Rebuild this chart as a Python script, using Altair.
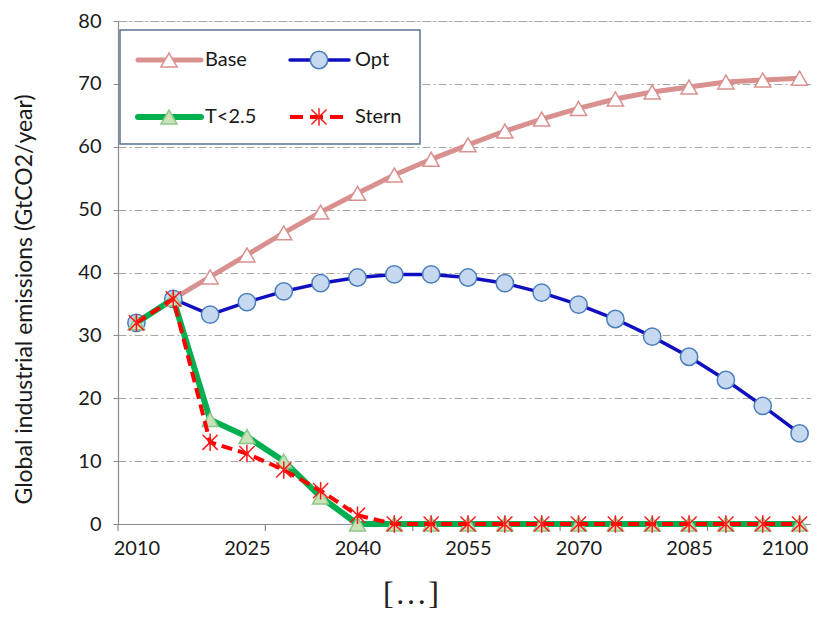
import altair as alt
import pandas as pd

years = list(range(2010, 2101, 5))
base = [32.0, 35.8, 39.3, 42.8, 46.3, 49.6, 52.6, 55.5, 58.0, 60.3, 62.5, 64.4,
        66.1, 67.6, 68.7, 69.5, 70.3, 70.6, 70.9]
opt = [32.0, 35.8, 33.3, 35.3, 37.0, 38.3, 39.2, 39.7, 39.7, 39.2, 38.3, 36.8,
       34.9, 32.6, 29.8, 26.6, 22.9, 18.8, 14.4]
t25 = [32.0, 35.8, 16.6, 13.9, 10.0, 4.3, 0.0, 0.0, 0.0, 0.0, 0.0, 0.0,
       0.0, 0.0, 0.0, 0.0, 0.0, 0.0, 0.0]
stern = [32.0, 35.8, 13.0, 11.2, 8.6, 5.3, 1.4, 0.0, 0.0, 0.0, 0.0, 0.0,
         0.0, 0.0, 0.0, 0.0, 0.0, 0.0, 0.0]
series_names = ["Base", "Opt", "T<2.5", "Stern"]
x_labels = [2010, 2025, 2040, 2055, 2070, 2085, 2100]
x_tick_marks = [2007.5, 2027.5, 2047.5, 2067.5, 2087.5]
y_ticks = [0, 10, 20, 30, 40, 50, 60, 70, 80]

FONT = "Lato"
W, H = 693, 503
STAR = "M-1,-1L1,1M-1,1L1,-1M0,-1.15L0,1.15"

styles = {
    "Base": dict(line=dict(color="#D9918F", strokeWidth=5),
                 pt=dict(shape="triangle-up", filled=True, fill="white", stroke="#D9918F",
                         strokeWidth=1.5, size=260, opacity=1)),
    "Opt": dict(line=dict(color="#1010C0", strokeWidth=3.5),
                pt=dict(shape="circle", filled=True, fill="#C6D9F1", stroke="#4A7EBB",
                        strokeWidth=1.5, size=300, opacity=1)),
    "T<2.5": dict(line=dict(color="#00B050", strokeWidth=6, strokeJoin="round"),
                  pt=dict(shape="triangle-up", filled=True, fill="#C9E2B8", stroke="#8FC78A",
                          strokeWidth=1.5, size=260, opacity=1)),
    "Stern": dict(line=dict(color="#FF0000", strokeWidth=4, strokeDash=[11, 6]),
                  pt=dict(shape=STAR, filled=False, stroke="#FF1A1A", strokeWidth=1.5,
                          size=230, opacity=1)),
}
values = {"Base": base, "Opt": opt, "T<2.5": t25, "Stern": stern}

px_per_year = 700 / 95
xscale = alt.Scale(domain=[2007.5, 2007.5 + W / px_per_year], nice=False, zero=False)
yscale = alt.Scale(domain=[0, 80], nice=False)

layers = []

axis_df = pd.DataFrame({"year": years, "v": base})
axes = alt.Chart(axis_df).mark_point(opacity=0).encode(
    x=alt.X("year:Q", scale=xscale, title=None,
            axis=alt.Axis(values=x_labels, format="d", ticks=False, grid=False,
                          labelFont=FONT, labelFontSize=20, labelColor="#1a1a1a",
                          labelPadding=14, domainColor="#8C8C8C", domainWidth=1.2,
                          labelOffset={"condition": {"test": "datum.value == 2100", "value": -15},
                                       "value": 0})),
    y=alt.Y("v:Q", scale=yscale,
            title="Global industrial emissions (GtCO2/year)",
            axis=alt.Axis(values=y_ticks, grid=True, gridDash=[8, 3, 2, 3],
                          gridColor="#A6A6A6", gridWidth=1,
                          domainColor="#8C8C8C", domainWidth=1.2,
                          tickColor="#8C8C8C", tickSize=5,
                          labelFont=FONT, labelFontSize=20, labelColor="#1a1a1a",
                          labelPadding=12,
                          titleFont=FONT, titleFontSize=23, titleFontWeight="normal",
                          titleColor="#1a1a1a", titleX=-94, titleY=278,
                          titleBaseline="middle", titleAngle=-90, titleAlign="center")),
)
layers.append(axes)

tick_df = pd.DataFrame({"t": x_tick_marks})
ticks = alt.Chart(tick_df).mark_rule(color="#8C8C8C", strokeWidth=1.2).encode(
    x=alt.X("t:Q", scale=xscale), y=alt.value(H), y2=alt.value(H + 7))
layers.append(ticks)

for name in series_names:
    df = pd.DataFrame({"year": years, "v": values[name], "series": name})
    st = styles[name]
    line = alt.Chart(df).mark_line(**st["line"]).encode(
        x=alt.X("year:Q", scale=xscale), y=alt.Y("v:Q", scale=yscale))
    pts = alt.Chart(df).mark_point(**st["pt"]).encode(
        x=alt.X("year:Q", scale=xscale), y=alt.Y("v:Q", scale=yscale))
    layers += [line, pts]

one = pd.DataFrame({"a": [0]})
box = alt.Chart(one).mark_rect(fill="white", stroke="#5A7394", strokeWidth=1.5).encode(
    x=alt.value(2), x2=alt.value(302), y=alt.value(9), y2=alt.value(123))
layers.append(box)

legend_pos = {"Base": (20, 83, 51, 87, 39), "Opt": (172, 231, 201, 237, 39),
              "T<2.5": (20, 83, 51, 87, 96), "Stern": (172, 231, 201, 237, 96)}
for name in series_names:
    x1, x2, xm, xt, yy = legend_pos[name]
    st = styles[name]
    lp = dict(st["line"])
    lp.pop("strokeJoin", None)
    lp["strokeCap"] = "round" if name != "Stern" else "butt"
    if name == "Stern":
        lp["strokeDash"] = [13, 7]
    layers.append(alt.Chart(one).mark_rule(**lp).encode(
        x=alt.value(x1), x2=alt.value(x2), y=alt.value(yy)))
    layers.append(alt.Chart(one).mark_point(**st["pt"]).encode(
        x=alt.value(xm), y=alt.value(yy)))
    layers.append(alt.Chart(one).mark_text(text=name, align="left", baseline="middle",
                                           font=FONT, fontSize=20, color="#1a1a1a").encode(
        x=alt.value(xt), y=alt.value(yy)))

layers.append(alt.Chart(one).mark_text(text="[\u200a.\u200a.\u200a.\u200a]", align="center",
                                       baseline="alphabetic", font="Liberation Serif",
                                       fontSize=32, color="#222222").encode(
    x=alt.value(293), y=alt.value(583)))

chart = alt.layer(*layers).properties(
    width=W, height=H,
    autosize=alt.AutoSizeParams(type="none"),
    padding={"left": 110, "top": 13, "right": 0, "bottom": 88},
).configure_view(stroke=None).configure(background="white")

chart.save("out.html", embed_options={"renderer": "svg", "actions": False})
